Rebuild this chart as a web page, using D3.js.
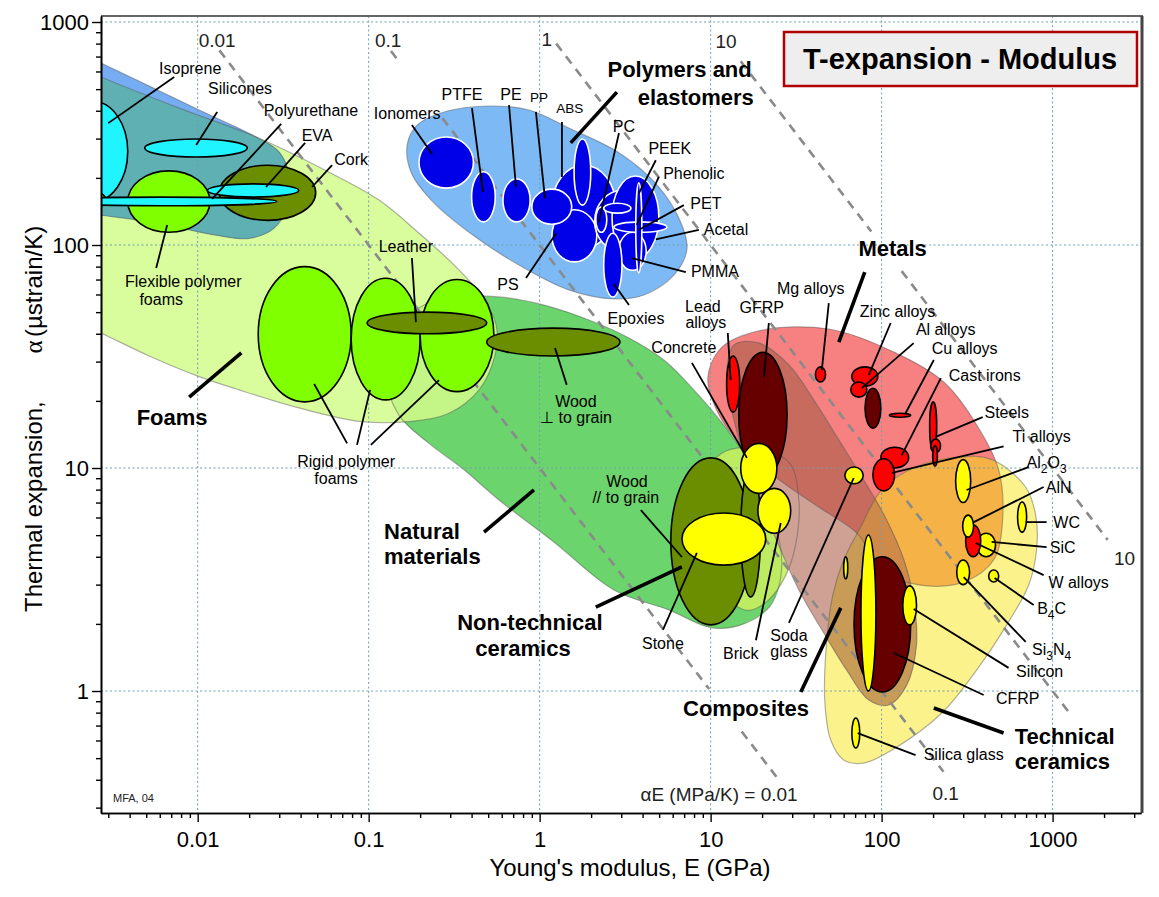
<!DOCTYPE html>
<html><head><meta charset="utf-8">
<script src="https://d3js.org/d3.v7.min.js"></script>
<style>
html,body{margin:0;padding:0;background:#fff;}
svg text{font-family:"Liberation Sans",Arial,Helvetica,sans-serif;fill:#000;}
</style></head>
<body>
<svg id="c" width="1159" height="897"></svg>
<script>
// ================= DATA =================
// Axes
const xDomain = [0.00272, 3289];          // Young's modulus E (GPa)
const yDomain = [0.2838, 1064];           // Thermal expansion alpha (ustrain/K)
const xMajorTicks = [0.01, 0.1, 1, 10, 100, 1000];
const xTickLabels = ["0.01", "0.1", "1", "10", "100", "1000"];
const yMajorTicks = [1, 10, 100, 1000];
const yTickLabels = ["1", "10", "100", "1000"];

// Family envelopes: boundary points [E, alpha]
const envNatural = [[0.123,27.5],[0.141,41.6],[0.211,53.8],[0.338,58.5],[0.578,58.5],[1.06,53.8],[1.94,46.1],[3.33,38.3],[5.33,30.5],[7.98,22.4],[12.3,15.1],[17.9,9.8],[23.4,5.85],[26.1,3.67],[22.5,2.43],[15.6,2.0],[10.2,1.92],[5.70,2.31],[2.72,2.84],[1.21,4.66],[0.578,7.19],[0.351,10.0],[0.225,12.9],[0.150,17.3]];
const envFoam = [[0.00104,788],[0.00272,567],[0.0078,411],[0.022,305],[0.0587,212],[0.115,159],[0.197,113],[0.316,81.3],[0.454,59.7],[0.556,43.8],[0.548,32.1],[0.442,22.4],[0.295,17.6],[0.179,16.2],[0.0879,16.2],[0.0392,18.6],[0.0175,22.4],[0.00993,25.9],[0.00521,31.8],[0.00272,40.3],[0.00104,56.7]];
const envElastomer = [[0.00119,875],[0.00272,655],[0.00521,516],[0.0102,403],[0.022,305],[0.030,261],[0.0343,206],[0.0338,151],[0.028,119],[0.020,107],[0.0125,111],[0.00682,122],[0.00398,131],[0.00272,136],[0.00119,151]];
const envPolymer = [[0.168,281],[0.192,345],[0.276,395],[0.505,420],[0.866,403],[1.48,335],[2.91,259],[4.98,182],[6.79,123],[7.26,95],[6.10,73.3],[4.07,59.7],[2.72,57.3],[1.48,62.9],[0.757,81.3],[0.386,114],[0.232,159],[0.177,212]];
const envNonTech = [[8.0,5.9],[9.0,9.0],[11.5,11.6],[17.0,12.3],[28.7,10.6],[32.8,7.19],[31.4,4.52],[27.5,3.3],[21.7,2.55],[16.4,2.3],[11.6,2.75],[8.9,3.9]];
const envMetals = [[9.63,25.3],[11.5,34.5],[19.1,41.2],[49.1,42.0],[118,33.1],[231,24.3],[360,15.6],[484,9.8],[510,5.85],[452,3.87],[302,3.08],[165,2.99],[96.2,3.56],[73.5,5.01],[42.9,6.68],[24.4,9.02],[15.6,12.3],[11.2,17.3]];
const envComposites = [[13.7,35.6],[19.1,36.4],[28.7,29.0],[40.1,20.2],[56.1,13.4],[78.6,8.83],[107,5.85],[135,3.87],[154,2.56],[160,1.61],[140,1.06],[110,0.866],[84.1,0.911],[62.5,1.24],[45.9,1.82],[32.8,2.84],[25.7,4.29],[20.5,6.48],[16.3,10.3],[13.7,16.4],[12.4,24.8]];
const envTech = [[60.0,3.87],[75.5,5.44],[100,7.97],[158,10.1],[282,11.2],[441,10.9],[695,8.22],[796,6.15],[806,4.29],[725,2.99],[517,1.88],[370,1.28],[225,0.797],[115,0.544],[78.6,0.475],[60.0,0.491],[50.4,0.603],[46.5,0.911],[47.8,1.69],[51.8,2.69]];

// Material bubbles: [name, Emin, Emax, alphaMin, alphaMax]
const elastomers = [
  ["Isoprene",0.0015,0.0039,156,442],
  ["Silicones",0.0049,0.0195,248,299],
  ["Polyurethane",0.0013,0.029,150,164],
  ["EVA",0.0114,0.039,164,188]];
const foams = [
  ["Flexible foam VLD",0.0012,0.0029,139,182],
  ["Flexible polymer foam",0.0039,0.0118,114,215],
  ["Rigid foam LD",0.0226,0.079,19.8,80],
  ["Rigid foam MD",0.079,0.20,20.2,71],
  ["Rigid foam HD",0.20,0.54,22,70]];
const naturals = [
  ["Cork",0.0134,0.049,129,228],
  ["Leather",0.098,0.49,40,50],
  ["Wood perp",0.49,2.95,31.8,42.4],
  ["Wood par",5.85,17.2,1.98,11.1],
  ["Wood other",15.0,19.6,2.64,10.1]];
const polymers = [
  ["Ionomers",0.197,0.41,180,305],
  ["PTFE",0.40,0.55,127,213],
  ["PE",0.61,0.88,127,198],
  ["ABS",1.18,2.79,97,228],
  ["PS",1.18,2.16,84,144],
  ["PA",1.59,1.99,151,299],
  ["PC",2.10,4.47,93,176],
  ["Acetal",2.65,4.98,87,204],
  ["PMMA",2.9,4.2,77,114],
  ["PP",0.90,1.54,124,178],
  ["PC2",2.13,2.47,114,148],
  ["PEEK",2.37,3.42,139,154],
  ["PET",2.72,5.55,114,127],
  ["Phenolic",3.65,3.96,75,190],
  ["Epoxies",2.37,3.03,58.5,113]];
const metals = [
  ["Lead alloys",12.4,14.8,17.8,31.8],
  ["Mg alloys",41,47,24.3,28.4],
  ["Zinc alloys",67,95,23.3,28.4],
  ["Al alloys",66,82,20.8,24.3],
  ["Cu alloys",111,148,16.9,17.6],
  ["Cast irons",99,144,10,12.4],
  ["Ti alloys",89,119,7.9,11.0],
  ["Steels",191,210,12,19.8],
  ["Ni alloys",194,221,11.7,13.5],
  ["Ni small",199,212,10.2,12.6],
  ["W alloys",310,380,4.0,5.55]];
const composites = [
  ["GFRP",14.6,28,9.1,33],
  ["Al-SiC",80,99,15.1,22.8],
  ["CFRP",69,148,0.99,4.0]];
const ceramics = [
  ["Concrete",15,24.4,7.7,12.9],
  ["Stone",6.8,21,3.67,6.28],
  ["Brick",18.9,29.4,5.1,8.1],
  ["Soda glass",61,78,8.5,10.1],
  ["Al2O3",271,332,7.0,10.9],
  ["SiC",360,464,4.0,5.1],
  ["AlN",298,345,4.9,6.15],
  ["WC",624,705,5.16,7.04],
  ["Si3N4",275,327,3.0,3.87],
  ["B4C",423,484,3.08,3.49],
  ["Glass ceramic",75.7,92.6,1.0,5.0],
  ["Borosilicate",60,63.4,3.18,4.0],
  ["Silicon",133,160,1.98,2.96],
  ["Silica glass",67,74.5,0.555,0.757]];

const drawOrder = ["Isoprene","Flexible foam VLD","Silicones","Flexible polymer foam","Cork","Polyurethane","EVA",
  "Rigid foam LD","Rigid foam MD","Rigid foam HD","Leather","Wood perp",
  "Ionomers","PTFE","PE","ABS","PS","PA","PC","Acetal","PMMA","PP","PC2","PEEK","PET","Phenolic","Epoxies",
  "Lead alloys","GFRP","Wood par","Wood other","Concrete","Stone","Brick","Soda glass",
  "Mg alloys","Zinc alloys","Al-SiC","Al alloys","Cu alloys","Cast irons","Ti alloys","Steels","Ni alloys","Ni small",
  "Al2O3","SiC","W alloys","AlN","WC","Si3N4","B4C","CFRP","Glass ceramic","Borosilicate","Silicon","Silica glass"];

// Contours of alpha*E (MPa/K): alpha*E/1000 = value
const guideValues = [0.01, 0.1, 1, 10];
const guideSpans = [[[0.0134,9.8],[15.2,25]], [[0.135,0.15],[0.27,230]], [[1.25,1300]], [[15,87],[131,2100]]];

// Labels: [text, E, alpha]
const smallLabels = [
  ["Isoprene",0.00904,622],["Silicones",0.0177,506],["Polyurethane",0.0460,403],["EVA",0.0499,311],["Cork",0.0789,243],
  ["Flexible polymer",0.00823,68.9],["foams",0.00612,57.2],["Leather",0.165,98.9],["Rigid polymer",0.0738,10.7],["foams",0.0645,9.02],
  ["Wood",1.63,19.8],["\u22A5 to grain",1.63,16.8],["Wood",3.24,8.74],["// to grain",3.19,7.41],["Concrete",6.97,34.9],
  ["Lead",9.01,53.2],["alloys",9.38,45.2],["GFRP",19.9,52.7],["Epoxies",3.66,47.0],["Stone",5.26,1.64],["Brick",15.0,1.48],
  ["Soda",28.7,1.78],["glass",28.7,1.51],["Mg alloys",38.5,64.1],["Zinc alloys",124,50.6],["Al alloys",237,42.0],
  ["Cu alloys",306,34.5],["Cast irons",401,25.9],["Steels",539,17.8],["Ti alloys",863,13.8],["Al_2O_3",923,10.6],
  ["AlN",1085,8.22],["WC",1208,5.72],["SiC",1145,4.42],["W alloys",1420,3.08],["B_4C",987,2.35],["Si_3N_4",987,1.53],
  ["Silicon",840,1.22],["CFRP",625,0.930],["Silica glass",302,0.522],["Ionomers",0.168,391],["PTFE",0.351,475],
  ["PE",0.680,475],["PC",3.11,342],["PEEK",5.77,272],["Phenolic",7.98,210],["PET",9.38,154],["Acetal",12.3,117],
  ["PMMA",10.6,76.4],["PS",0.653,66.8]];
const tinyLabels = [["PP",0.991,461],["ABS",1.50,411]];
const boldLabels = [
  ["Polymers and",17.4,615,"end"],["elastomers",17.9,461,"end"],["Metals",116,96.9,"middle"],["Foams",0.00709,16.8,"middle"],
  ["Natural",0.123,5.22,"start"],["materials",0.123,4.03,"start"],["Non-technical",0.878,2.04,"middle"],["ceramics",0.799,1.56,"middle"],
  ["Composites",16.1,0.839,"middle"],["Technical",600,0.628,"start"],["ceramics",600,0.482,"start"]];
const guideLabels = [
  ["0.01",0.0130,830,"middle"],["0.1",0.130,830,"middle"],["1",1.10,839,"middle"],["10",12.3,821,"middle"],
  ["\u03B1E (MPa/K) = 0.01",32.3,0.345,"end"],["0.1",237,0.349,"middle"],["10",2637,3.95,"middle"]];

// Leader lines: [[E1,a1],[E2,a2]]
const smallLeaders = [
  [[0.00729,567],[0.0030,352]],[[0.0130,395],[0.0098,281]],[[0.0308,349],[0.01215,161]],[[0.0425,287],[0.0251,182]],
  [[0.0611,228],[0.0467,182]],[[0.00572,78.8],[0.00663,123]],[[0.179,87.4],[0.189,45.1]],[[0.0748,12.9],[0.0480,23.8]],
  [[0.0855,12.7],[0.102,22.4]],[[0.103,12.7],[0.258,24.8]],[[1.44,23.6],[1.23,34.5]],[[3.91,6.48],[6.79,3.99]],
  [[7.77,29.6],[16.3,11.1]],[[12.6,40.3],[13.1,24.8]],[[21.9,44.7],[20.5,25.6]],[[5.26,1.88],[8.31,4.16]],
  [[18.4,1.69],[25.7,5.67]],[[28.7,2.02],[68.7,9.02]],[[49.1,54.9],[44.7,27.5]],[[113,44.7],[84.1,26.1]],
  [[154,36.3],[76.5,22.8]],[[202,30.5],[138,17.6]],[[222,25.3],[131,11.4]],[[390,16.9],[207,13.8]],
  [[517,12.5],[115,9.50]],[[724,10.1],[314,7.97]],[[886,8.22],[346,5.72]],[[923,5.72],[696,5.72]],
  [[923,4.42],[440,4.66]],[[886,3.31],[355,4.61]],[[775,2.43],[458,3.21]],[[696,1.66],[302,3.24]],
  [[553,1.27],[154,2.33]],[[395,0.960],[118,1.48]],[[158,0.516],[72.5,0.648]],[[0.179,345],[0.235,256]],
  [[0.402,411],[0.466,173]],[[0.662,424],[0.727,182]],[[0.951,395],[1.074,162]],[[1.35,356],[1.35,202]],
  [[2.91,318],[2.22,127]],[[4.78,240],[3.81,171]],[[4.98,202],[3.70,123]],[[6.97,151],[3.81,117]],
  [[8.53,117],[4.78,106]],[[7.16,75.6],[3.46,87.4]],[[3.33,53.8],[2.72,66.8]],[[0.832,71.1],[1.25,113]]];
const boldLeaders = [
  [[2.83,485],[1.52,287]],[[79.7,75.6],[56.2,36.7]],[[0.00892,20.8],[0.0180,32.8]],[[0.473,5.16],[0.926,7.97]],
  [[2.13,2.38],[6.79,3.60]],[[33.7,0.990],[57.7,2.36]],[[517,0.648],[202,0.839]]];

// ================= RENDER =================
const svg = d3.select("#c");
const X0 = 101, X1 = 1141, Y0 = 16, Y1 = 813;
const x = d3.scaleLog().domain(xDomain).range([X0, X1]);
const y = d3.scaleLog().domain(yDomain).range([Y1, Y0]);
const defs = svg.append("defs");
defs.append("clipPath").attr("id","plotClip").append("rect").attr("x",X0).attr("y",Y0).attr("width",X1-X0).attr("height",Y1-Y0);
const area = d3.line().x(d=>x(d[0])).y(d=>y(d[1])).curve(d3.curveCatmullRomClosed.alpha(0.5));
defs.append("clipPath").attr("id","clipFoam").append("path").attr("d",area(envFoam));
defs.append("clipPath").attr("id","clipMetals").append("path").attr("d",area(envMetals));
defs.append("clipPath").attr("id","clipTech").append("path").attr("d",area(envTech));

svg.append("rect").attr("x",0).attr("y",0).attr("width",1159).attr("height",897).attr("fill","#fff");
const plot = svg.append("g").attr("clip-path","url(#plotClip)");

// envelopes
const env = (pts, fill, op) => plot.append("path").attr("d", area(pts)).attr("fill", fill).attr("fill-opacity", op==null?1:op);
env(envNatural, "#6cd46c");
env(envFoam, "#d2fb8c", 0.85);
env(envElastomer, "#76acf2");
env(envElastomer, "#5fb0b3").attr("clip-path","url(#clipFoam)");
env(envPolymer, "#7db9f5");
env(envNonTech, "#c6ee62", 0.9);
env(envMetals, "#f78080");
env(envTech, "#fbf28c");
env(envMetals, "#f5b247").attr("clip-path","url(#clipTech)");
env(envComposites, "#cfa195");
env(envComposites, "#c76b5f").attr("clip-path","url(#clipMetals)");
env(envComposites, "#c89b57").attr("clip-path","url(#clipTech)");
plot.append("g").attr("clip-path","url(#clipMetals)").append("path").attr("d",area(envComposites))
  .attr("fill","#cf8a4a").attr("clip-path","url(#clipTech)");
[envNatural, envFoam, envElastomer, envPolymer, envNonTech, envMetals, envTech, envComposites].forEach(p=>{
  plot.append("path").attr("d", area(p)).attr("fill","none").attr("stroke","#555").attr("stroke-opacity",0.45).attr("stroke-width",1.2);
});

// grid
const grid = plot.append("g").attr("stroke","#6f9fb0").attr("stroke-width",1).attr("stroke-dasharray","2,2.5");
xMajorTicks.forEach(v=>grid.append("line").attr("x1",x(v)).attr("x2",x(v)).attr("y1",Y0).attr("y2",Y1));
yMajorTicks.forEach(v=>grid.append("line").attr("y1",y(v)).attr("y2",y(v)).attr("x1",X0).attr("x2",X1));

// guide lines alpha*E = const
const guides = plot.append("g").attr("stroke","#8a8a8a").attr("stroke-width",2.6).attr("stroke-dasharray","9,7").attr("fill","none");
guideValues.forEach((g,i)=>{
  const k = g*1000;
  guideSpans[i].forEach(s=>{
    guides.append("line").attr("x1",x(s[0])).attr("y1",y(k/s[0])).attr("x2",x(s[1])).attr("y2",y(k/s[1]));
  });
});

// bubbles
const famStyle = {elastomer:["#20f4ff","#000"], foam:["#80ff00","#000"], natural:["#6b8e00","#000"],
  polymer:["#0000e8","#fff"], metal:["#ff0000","#000"], composite:["#660000","#000"], ceramic:["#ffff00","#000"]};
const fams = {elastomer:elastomers, foam:foams, natural:naturals, polymer:polymers, metal:metals, composite:composites, ceramic:ceramics};
const lookup = {};
Object.entries(fams).forEach(([f,arr])=>arr.forEach(r=>lookup[r[0]]=[f,r]));
const bub = plot.append("g");
drawOrder.forEach(n=>{
  const [f,r] = lookup[n];
  const xa=x(r[1]), xb=x(r[2]), ya=y(r[3]), yb=y(r[4]);
  bub.append("ellipse").attr("cx",(xa+xb)/2).attr("cy",(ya+yb)/2).attr("rx",(xb-xa)/2).attr("ry",(ya-yb)/2)
    .attr("fill",famStyle[f][0]).attr("stroke",famStyle[f][1]).attr("stroke-width",1.6);
});

// leaders
const lead = svg.append("g").attr("stroke","#000").attr("stroke-linecap","butt");
smallLeaders.forEach(l=>lead.append("line").attr("x1",x(l[0][0])).attr("y1",y(l[0][1])).attr("x2",x(l[1][0])).attr("y2",y(l[1][1])).attr("stroke-width",1.8));
boldLeaders.forEach(l=>lead.append("line").attr("x1",x(l[0][0])).attr("y1",y(l[0][1])).attr("x2",x(l[1][0])).attr("y2",y(l[1][1])).attr("stroke-width",3.6));

// labels
function label(g, t, px, py, size, bold, anchor){
  const el = g.append("text").attr("x",px).attr("y",py+size*0.35).attr("text-anchor",anchor||"middle")
    .style("font-size",size+"px").style("font-weight",bold?"bold":"normal");
  const parts = t.split(/(_\d)/).filter(p=>p);
  let sub=false;
  parts.forEach(p=>{
    if(p[0]==="_"){ el.append("tspan").attr("dy",size*0.3).style("font-size",(size*0.75)+"px").text(p[1]); sub=true; }
    else { const ts=el.append("tspan").text(p); if(sub){ ts.attr("dy",-size*0.3); sub=false; } }
  });
  return el;
}
const lab = svg.append("g");
smallLabels.forEach(d=>label(lab,d[0],x(d[1]),y(d[2]),16,false));
tinyLabels.forEach(d=>label(lab,d[0],x(d[1]),y(d[2]),13.5,false));
boldLabels.forEach(d=>label(lab,d[0],x(d[1]),y(d[2]),22,true,d[3]));
guideLabels.forEach(d=>{
  const el = label(lab,d[0],x(d[1]),y(d[2]),19,false,d[3]);
  el.style("fill","#222");
});

// frame
svg.append("line").attr("x1",X0).attr("x2",X1+2).attr("y1",Y0).attr("y2",Y0).attr("stroke","#666").attr("stroke-width",2);
svg.append("line").attr("x1",X1+1).attr("x2",X1+1).attr("y1",Y0).attr("y2",Y1).attr("stroke","#444").attr("stroke-width",3);

// axes
const xMinor=[], yMinor=[];
for(let d=-3; d<=3; d++) for(let m=2; m<=9; m++){ const v=m*Math.pow(10,d);
  if(v>xDomain[0]&&v<xDomain[1]) xMinor.push(v); if(v>yDomain[0]&&v<yDomain[1]) yMinor.push(v); }
function styleAxis(g){ g.attr("font-family","Liberation Sans, Arial, sans-serif").attr("font-size",22);
  g.select(".domain").attr("stroke","#000").attr("stroke-width",1.6);
  g.selectAll(".tick line").attr("stroke","#000").attr("stroke-width",1.4);
  g.selectAll(".tick text").attr("fill","#111"); }
svg.append("g").attr("transform",`translate(0,${Y1})`)
  .call(d3.axisBottom(x).tickValues(xMinor).tickSize(5).tickFormat("").tickSizeOuter(0)).call(styleAxis);
svg.append("g").attr("transform",`translate(0,${Y1})`)
  .call(d3.axisBottom(x).tickValues(xMajorTicks).tickFormat((d,i)=>xTickLabels[i]).tickSize(9).tickPadding(9).tickSizeOuter(0)).call(styleAxis);
svg.append("g").attr("transform",`translate(${X0},0)`)
  .call(d3.axisLeft(y).tickValues(yMinor).tickSize(5).tickFormat("").tickSizeOuter(0)).call(styleAxis);
svg.append("g").attr("transform",`translate(${X0},0)`)
  .call(d3.axisLeft(y).tickValues(yMajorTicks).tickFormat((d,i)=>yTickLabels[i]).tickSize(9).tickPadding(3).tickSizeOuter(0)).call(styleAxis);

// axis titles
svg.append("text").attr("x",630).attr("y",876).attr("text-anchor","middle").style("font-size","24px").text("Young's modulus, E (GPa)");
svg.append("text").attr("transform","translate(42,612) rotate(-90)").attr("text-anchor","start").style("font-size","24px").text("Thermal expansion,");
svg.append("text").attr("transform","translate(42,347) rotate(-90)").attr("text-anchor","middle")
  .style("font-size","25px").style("font-family","Liberation Serif, serif").text("\u03B1");
svg.append("text").attr("transform","translate(42,337) rotate(-90)").attr("text-anchor","start").style("font-size","24px").text("(\u00B5strain/K)");

// title box
svg.append("rect").attr("x",784).attr("y",32).attr("width",353).attr("height",54).attr("fill","#eeeeee").attr("stroke","#b00000").attr("stroke-width",2.5);
svg.append("text").attr("x",960).attr("y",69).attr("text-anchor","middle").style("font-size","29px").style("font-weight","bold").text("T-expansion - Modulus");

// credit
svg.append("text").attr("x",113).attr("y",802).style("font-size","11px").style("fill","#222").text("MFA, 04");
</script>
</body></html>
